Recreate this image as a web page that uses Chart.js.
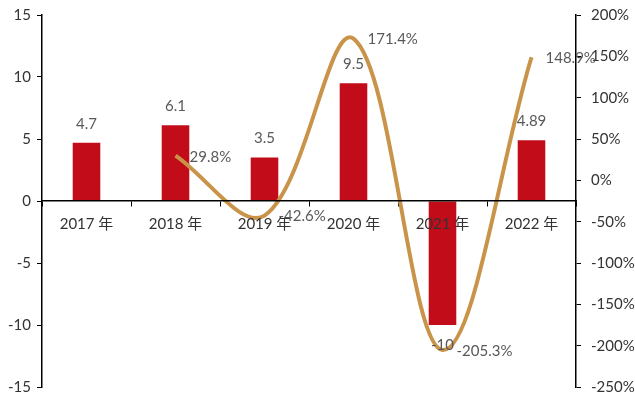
<!DOCTYPE html>
<html>
<head>
<meta charset="utf-8">
<script src="https://cdn.jsdelivr.net/npm/chart.js@4.4.0/dist/chart.umd.min.js"></script>
<style>
  html, body { margin: 0; padding: 0; background: #fff; }
  #wrap { width: 635px; height: 397px; }
</style>
</head>
<body>
<div id="wrap"><canvas id="chart" width="635" height="397"></canvas></div>
<script>
// data
const years = ["2017 年", "2018 年", "2019 年", "2020 年", "2021 年", "2022 年"];
const amounts = [4.7, 6.1, 3.5, 9.5, -10, 4.89];
const growth = [null, 29.8, -42.6, 171.4, -205.3, 148.9];
const barLabels = ["4.7", "6.1", "3.5", "9.5", "-10", "4.89"];
const growthLabels = [null, "29.8%", "-42.6%", "171.4%", "-205.3%", "148.9%"];

const FONT = "Lato, 'Noto Sans CJK SC', sans-serif";

// category labels sit on the zero line, on top of the bars
const categoryLabels = {
    id: "categoryLabels",
    afterDatasetsDraw(chart) {
        const ctx = chart.ctx;
        const xs = chart.scales.x;
        const y0 = chart.scales.y.getPixelForValue(0);
        ctx.save();
        ctx.font = "15px " + FONT;
        ctx.fillStyle = "#333";
        ctx.textAlign = "center";
        ctx.textBaseline = "middle";
        years.forEach(function (label, i) {
            ctx.fillText(label, xs.getPixelForTick(i), y0 + 23);
        });
        ctx.restore();
    }
};

// value labels for bars and line
const valueLabels = {
    id: "valueLabels",
    afterDatasetsDraw(chart) {
        const ctx = chart.ctx;
        ctx.save();
        ctx.font = "15px " + FONT;
        ctx.fillStyle = "#595959";
        ctx.textBaseline = "middle";

        ctx.textAlign = "center";
        chart.getDatasetMeta(1).data.forEach(function (bar, i) {
            const v = amounts[i];
            const y = v >= 0 ? bar.y - 19 : bar.y + 20;
            ctx.fillText(barLabels[i], bar.x, y);
        });

        ctx.textAlign = "left";
        chart.getDatasetMeta(0).data.forEach(function (pt, i) {
            if (growthLabels[i] == null) return;
            ctx.fillText(growthLabels[i], pt.x + 14, pt.y + 1);
        });
        ctx.restore();
    }
};

// keep the value axes flush with the padding
function fitY(width) {
    return function (scale) {
        scale.width = width;
        scale.paddingTop = 0;
        scale.paddingBottom = 0;
    };
}

const ctx = document.getElementById("chart").getContext("2d");
const myChart = new Chart(ctx, {
    data: {
        labels: years,
        datasets: [{
            type: "line",
            data: growth,
            yAxisID: "y1",
            borderColor: "#C9944A",
            borderWidth: 4,
            pointRadius: 0,
            tension: 0.36,
            fill: false,
            order: 0
        }, {
            type: "bar",
            data: amounts,
            yAxisID: "y",
            backgroundColor: "#C20C1A",
            barPercentage: 0.31,
            categoryPercentage: 1,
            order: 1
        }]
    },
    options: {
        responsive: false,
        animation: false,
        layout: { padding: { top: 15, bottom: 10, left: 0, right: 0 } },
        plugins: {
            legend: { display: false },
            tooltip: { enabled: false }
        },
        scales: {
            x: {
                position: { y: 0 },
                offset: true,
                afterFit(scale) {
                    scale.height = 0;
                    scale.paddingLeft = 0;
                    scale.paddingRight = 0;
                },
                grid: {
                    offset: true,
                    drawOnChartArea: false,
                    drawTicks: true,
                    tickLength: 5,
                    color: "#000"
                },
                border: { color: "#000", width: 1.5, z: 1 },
                ticks: {
                    color: "rgba(0,0,0,0)",
                    font: { size: 15, family: FONT },
                    padding: 9,
                    maxRotation: 0
                }
            },
            y: {
                position: "left",
                min: -15,
                max: 15,
                afterFit: fitY(42),
                grid: {
                    drawOnChartArea: false,
                    drawTicks: true,
                    tickLength: 5,
                    color: "#000"
                },
                border: { color: "#000", width: 1.5 },
                ticks: {
                    stepSize: 5,
                    color: "#333",
                    font: { size: 15, family: FONT },
                    padding: 6
                }
            },
            y1: {
                position: "right",
                min: -250,
                max: 200,
                afterFit: fitY(59),
                grid: {
                    drawOnChartArea: false,
                    drawTicks: true,
                    tickLength: 5,
                    color: "#000"
                },
                border: { color: "#000", width: 1.5 },
                ticks: {
                    stepSize: 50,
                    color: "#333",
                    font: { size: 15, family: FONT },
                    padding: 10,
                    callback: function (v) { return v + "%"; }
                }
            }
        }
    },
    plugins: [categoryLabels, valueLabels]
});
</script>
</body>
</html>
